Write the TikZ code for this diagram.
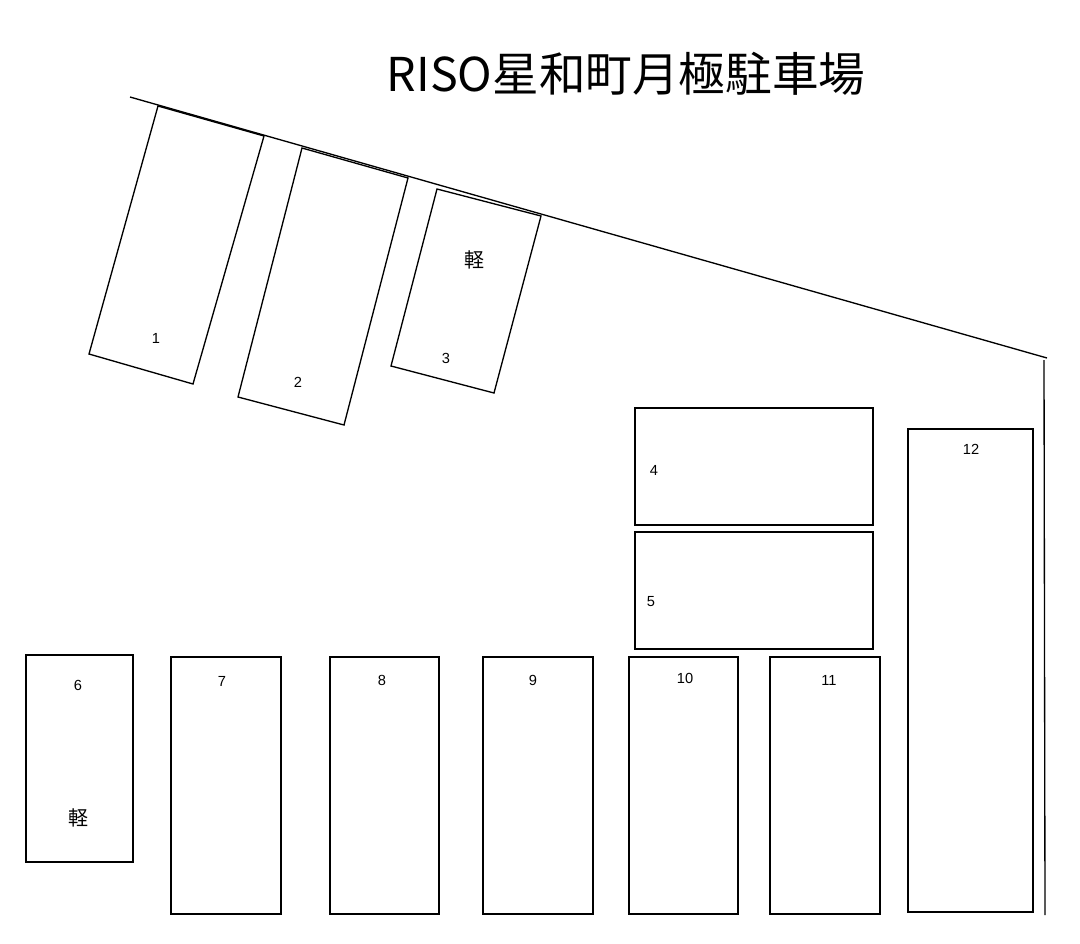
\documentclass[tikz,border=0pt]{standalone}
\usepackage{fontspec}
\setmainfont{Liberation Sans}
\newfontfamily\cjk{Noto Sans CJK JP}
\begin{document}
\begin{tikzpicture}[x=0.0264cm,y=-0.0264cm,
  lot/.style={draw=black,line width=1pt},
  num/.style={font=\fontsize{11}{12}\selectfont},
  kei/.style={font=\cjk\fontsize{15}{16}\selectfont}]
\useasboundingbox[fill=white] (0,0) rectangle (1080,943);
\node[font=\cjk\fontsize{35}{38}\selectfont] (title) at (626,74) {RISO星和町月極駐車場};
\draw[lot] (130,97) -- (1047,358);
\draw[lot] (1044,360) -- (1045,915);
\draw[lot] (158,106) -- (264,136) -- (193,384) -- (89,354) -- cycle;
\draw[lot] (302,148) -- (408,178) -- (344,425) -- (238,397) -- cycle;
\draw[lot] (437,189) -- (541,216) -- (494,393) -- (391,366) -- cycle;
\node[num] at (156,338) {1};
\node[num] at (298,382) {2};
\node[num] at (446,358) {3};
\node[kei] at (474,260) {軽};
\draw[lot] (635,408) rectangle (873,525); \node[num] at (654,470) {4};
\draw[lot] (635,532) rectangle (873,649); \node[num] at (651,602) {5};
\draw[lot] (26,655) rectangle (133,862); \node[num] at (78,685) {6}; \node[kei] at (78,818) {軽};
\draw[lot] (171,657) rectangle (281,914); \node[num] at (222,681) {7};
\draw[lot] (330,657) rectangle (439,914); \node[num] at (382,680) {8};
\draw[lot] (483,657) rectangle (593,914); \node[num] at (533,680) {9};
\draw[lot] (629,657) rectangle (738,914); \node[num] at (685,678) {10};
\draw[lot] (770,657) rectangle (880,914); \node[num] at (829,680) {11};
\draw[lot] (908,429) rectangle (1033,912); \node[num] at (971,449) {12};
\end{tikzpicture}
\end{document}
